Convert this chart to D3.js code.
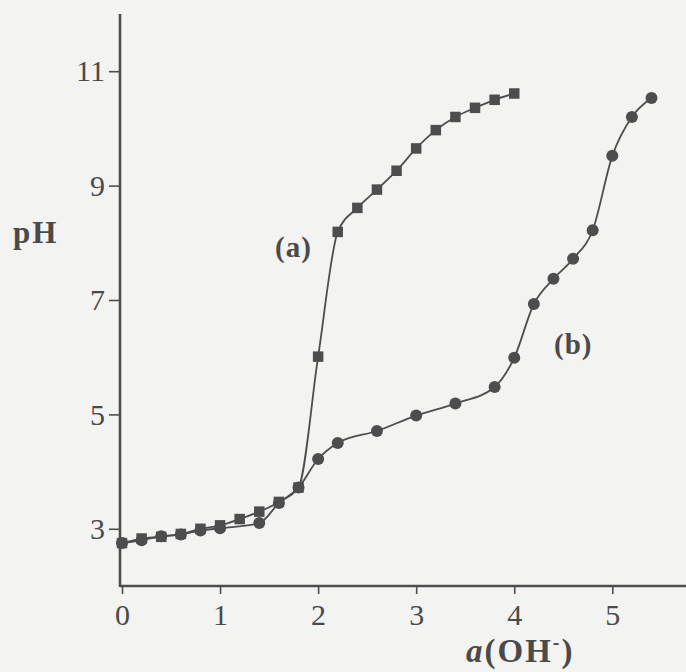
<!DOCTYPE html>
<html>
<head>
<meta charset="utf-8">
<script src="https://cdn.jsdelivr.net/npm/d3@7"></script>
<style>
  html, body { margin: 0; padding: 0; background: #f3f3f2; }
  svg { display: block; }
  text { font-family: "Liberation Serif", "Times New Roman", serif; fill: #4a4a4a; }
</style>
</head>
<body>
<svg id="chart" width="686" height="672"></svg>
<script>
// titration data
const xA = [0, 0.2, 0.4, 0.6, 0.8, 1.0, 1.2, 1.4, 1.6, 1.8, 2.0, 2.2, 2.4, 2.6, 2.8, 3.0, 3.2, 3.4, 3.6, 3.8, 4.0];
const pHA = [2.75, 2.83, 2.86, 2.91, 3.0, 3.06, 3.17, 3.3, 3.47, 3.72, 6.01, 8.19, 8.61, 8.93, 9.26, 9.65, 9.97, 10.2, 10.36, 10.5, 10.61];

const xB = [0, 0.2, 0.4, 0.6, 0.8, 1.0, 1.4, 1.6, 1.8, 2.0, 2.2, 2.6, 3.0, 3.4, 3.8, 4.0, 4.2, 4.4, 4.6, 4.8, 5.0, 5.2, 5.4];
const pHB = [2.75, 2.8, 2.87, 2.9, 2.97, 3.01, 3.1, 3.45, 3.72, 4.22, 4.5, 4.71, 4.98, 5.19, 5.48, 5.99, 6.93, 7.37, 7.72, 8.22, 9.52, 10.2, 10.53];

const xTicks = [0, 1, 2, 3, 4, 5];
const yTicks = [3, 5, 7, 9, 11];

const svg = d3.select("#chart");
const ink = "#4d4d4d";

const x = d3.scaleLinear().domain([0, 5]).range([122, 612.3]);
const y = d3.scaleLinear().domain([2, 12]).range([586, 14]);

const seriesA = xA.map((v, i) => ({ x: v, y: pHA[i] }));
const seriesB = xB.map((v, i) => ({ x: v, y: pHB[i] }));

// ── Axes ────────────────────────────────────────────────────────────────

const xAxis = svg.append("g")
  .attr("transform", `translate(0,${y(2)})`)
  .call(d3.axisBottom(x).tickValues(xTicks).tickFormat(d3.format("d")).tickSize(8).tickPadding(10));
xAxis.select(".domain").remove();
xAxis.append("line")
  .attr("x1", 120).attr("x2", 686)
  .attr("stroke", ink).attr("stroke-width", 2.6);

const yAxis = svg.append("g")
  .attr("transform", `translate(120,0)`)
  .call(d3.axisLeft(y).tickValues(yTicks).tickFormat(d3.format("d")).tickSize(11).tickPadding(4));
yAxis.select(".domain").remove();
yAxis.append("line")
  .attr("y1", y(12)).attr("y2", y(2) + 1)
  .attr("stroke", ink).attr("stroke-width", 2.6);

svg.selectAll(".tick line").attr("stroke", ink).attr("stroke-width", 1.6);
svg.selectAll(".tick text")
  .style("font-family", "'Liberation Serif', 'Times New Roman', serif")
  .style("font-size", "30px")
  .attr("fill", "#555");

// ── Curves ──────────────────────────────────────────────────────────────

const line = d3.line()
  .x(d => x(d.x))
  .y(d => y(d.y))
  .curve(d3.curveMonotoneX);

svg.append("path").datum(seriesB)
  .attr("d", line).attr("fill", "none")
  .attr("stroke", ink).attr("stroke-width", 1.8);

svg.append("path").datum(seriesA)
  .attr("d", line).attr("fill", "none")
  .attr("stroke", ink).attr("stroke-width", 1.8);

// markers
svg.append("g").selectAll("circle")
  .data(seriesB)
  .enter().append("circle")
  .attr("cx", d => x(d.x))
  .attr("cy", d => y(d.y))
  .attr("r", 6)
  .attr("fill", ink);

const sq = 10.5;
svg.append("g").selectAll("rect")
  .data(seriesA)
  .enter().append("rect")
  .attr("x", d => x(d.x) - sq / 2)
  .attr("y", d => y(d.y) - sq / 2)
  .attr("width", sq).attr("height", sq)
  .attr("fill", ink);

// ── Labels ──────────────────────────────────────────────────────────────

svg.append("text")
  .attr("x", 13).attr("y", 243)
  .style("font-size", "31px").style("font-weight", "bold")
  .style("letter-spacing", "2px")
  .text("pH");

svg.append("text")
  .attr("x", 275).attr("y", 257)
  .style("font-size", "29px").style("font-weight", "bold")
  .style("letter-spacing", "1px")
  .text("(a)");

svg.append("text")
  .attr("x", 554).attr("y", 354)
  .style("font-size", "29px").style("font-weight", "bold")
  .style("letter-spacing", "1px")
  .text("(b)");

const xl = svg.append("text")
  .attr("x", 466).attr("y", 662)
  .style("font-size", "33px").style("font-weight", "bold")
  .style("letter-spacing", "2px");
xl.append("tspan").style("font-style", "italic").text("a");
xl.append("tspan").text("(OH");
xl.append("tspan").attr("dy", -13).style("font-size", "20px").text("-");
xl.append("tspan").attr("dy", 13).text(")");
</script>
</body>
</html>
